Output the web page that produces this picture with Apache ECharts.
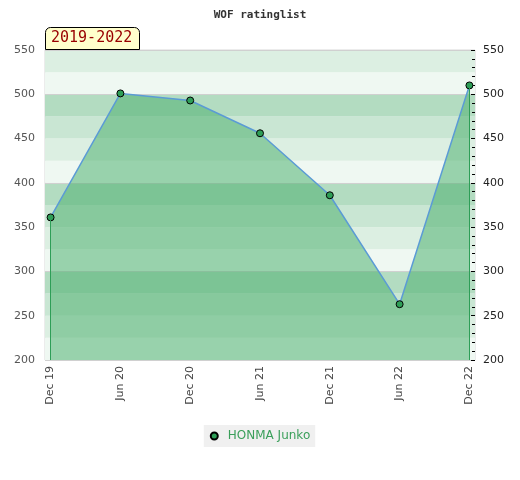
<!DOCTYPE html>
<html><head><meta charset="utf-8">
<script src="https://cdn.jsdelivr.net/npm/echarts@6/dist/echarts.min.js"></script>
<style>html,body{margin:0;padding:0;background:#fff}#c{width:520px;height:480px}</style>
</head><body><div id="c"></div>
<script>
const categories = ['Dec 19','Jun 20','Dec 20','Jun 21','Dec 21','Jun 22','Dec 22'];
const ratings = [361, 501, 493, 456, 386, 263, 510];
const yTicks = [200, 250, 300, 350, 400, 450, 500, 550];
const playerName = 'HONMA Junko';
const periodLabel = '2019-2022';
const titleText = 'WOF ratinglist';

const yMin = yTicks[0], yMax = yTicks[yTicks.length - 1];
const pts = ratings.map((v, i) => [i, v]);
const last = ratings.length - 1;

const chart = echarts.init(document.getElementById('c'));
chart.setOption({
  animation: false,
  title: [
    { text: titleText, left: 'center', top: 5,
      textStyle: { fontFamily: 'DejaVu Sans Mono', fontSize: 11, fontWeight: 'bold', color: '#333' } },
    { text: periodLabel, left: 45, top: 27, backgroundColor: '#ffffcc', borderColor: '#000', borderWidth: 1,
      borderRadius: [5, 5, 0, 0], padding: [4, 7, 4, 6],
      textStyle: { fontFamily: 'DejaVu Sans Mono', fontSize: 15, fontWeight: 'normal', color: '#990000' } }
  ],
  legend: {
    bottom: 33, left: 'center', icon: 'circle', itemWidth: 7, itemHeight: 7, itemGap: 10,
    backgroundColor: '#f0f0f0', padding: [5, 5, 5, 6],
    textStyle: { color: '#3a9f5a', fontFamily: 'DejaVu Sans', fontSize: 12, padding: [0, 0, 0, 5] },
    data: [playerName]
  },
  grid: { left: 45, right: 45, top: 50, bottom: 120, show: true, borderColor: '#d8d8d8', borderWidth: 1, backgroundColor: 'transparent' },
  xAxis: {
    type: 'value', min: -0.08, max: last + 0.08,
    axisLine: { show: false }, axisTick: { show: false }, splitLine: { show: false },
    axisLabel: { customValues: categories.map((c, i) => i), formatter: v => categories[Math.round(v)],
      rotate: 90, margin: 6, color: '#444', fontFamily: 'DejaVu Sans', fontSize: 11 }
  },
  yAxis: [
    { type: 'value', min: yMin, max: yMax, interval: 50, position: 'left',
      axisLine: { show: false }, axisTick: { show: false }, splitLine: { show: false },
      axisLabel: { color: '#555', fontFamily: 'DejaVu Sans', fontSize: 11, margin: 10 } },
    { type: 'value', min: yMin, max: yMax, interval: 50, position: 'right',
      axisLine: { show: false }, axisTick: { show: true, inside: true, length: 4, lineStyle: { color: '#000' } },
      minorTick: { show: true, splitNumber: 5, length: 3, lineStyle: { color: '#000' } },
      splitLine: { show: false },
      axisLabel: { color: '#222', fontFamily: 'DejaVu Sans', fontSize: 11, margin: 8 } },
    { type: 'value', min: yMin, max: yMax, interval: 25, position: 'left', show: true,
      axisLine: { show: false }, axisTick: { show: false }, axisLabel: { show: false }, splitLine: { show: false },
      splitArea: { show: true, areaStyle: { color: ['#eff8f2', '#dcefe2', '#c9e6d3', '#b3dcc1'] } } },
    { type: 'value', min: yMin, max: yMax, interval: 100, position: 'left', show: true,
      axisLine: { show: false }, axisTick: { show: false }, axisLabel: { show: false },
      splitLine: { show: true, lineStyle: { color: '#d0d0d0', width: 1 } } }
  ],
  series: [{
    name: playerName, type: 'line', xAxisIndex: 0, yAxisIndex: 0, data: pts,
    symbol: 'circle', symbolSize: 7,
    itemStyle: { color: '#2e9e57', borderColor: '#000', borderWidth: 1 },
    lineStyle: { color: '#5b9bd5', width: 1.5 },
    areaStyle: { origin: 'start', color: 'rgba(76,175,109,0.53)', opacity: 1 },
    markLine: {
      silent: true, symbol: 'none', label: { show: false },
      lineStyle: { color: '#2e9e57', type: 'solid', width: 1 },
      data: [
        [{ coord: [0, yMin] }, { coord: [0, ratings[0]] }],
        [{ coord: [last, yMin] }, { coord: [last, ratings[last]] }]
      ]
    }
  }]
});
</script></body></html>
